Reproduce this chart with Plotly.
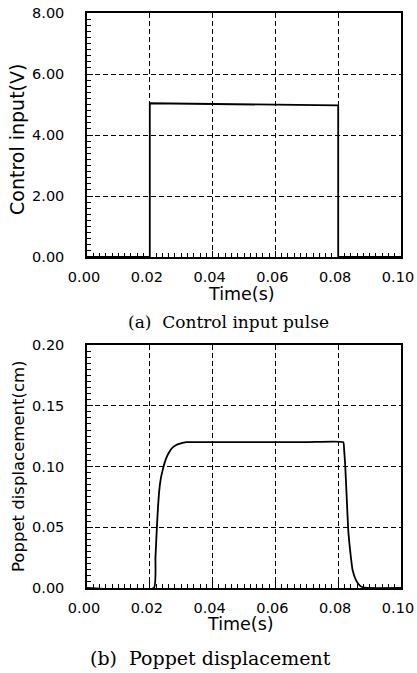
import plotly.graph_objects as go

# ---- data ----
t_ctrl = [0.0, 0.020, 0.020, 0.0800, 0.0800, 0.100]
v_ctrl = [0.0, 0.0, 5.04, 4.97, 0.0, 0.0]

t_pop = [0.0, 0.0213, 0.0218, 0.0222, 0.0226, 0.0230, 0.0235, 0.0241, 0.0247, 0.0254,
         0.0262, 0.0270, 0.0283, 0.0296, 0.0317, 0.0500, 0.0700, 0.0816, 0.0819,
         0.0822, 0.0827, 0.0832, 0.0838, 0.0846, 0.0857, 0.0869, 0.0880, 0.0891, 0.100]
x_pop = [0.0, 0.0, 0.025, 0.047, 0.066, 0.080, 0.090, 0.097, 0.103, 0.108,
         0.112, 0.115, 0.1175, 0.1188, 0.1200, 0.1200, 0.1200, 0.1200, 0.113,
         0.1025, 0.075, 0.0475, 0.031, 0.0146, 0.0063, 0.0020, 0.0005, 0.0, 0.0]

x_ticks = [0.00, 0.02, 0.04, 0.06, 0.08, 0.10]
x_ticklabels = ["0.00", "0.02", "0.04", "0.06", "0.08", "0.10"]
y1_ticks = [0, 2, 4, 6, 8]
y1_ticklabels = ["0.00", "2.00", "4.00", "6.00", "8.00"]
y2_ticks = [0.00, 0.05, 0.10, 0.15, 0.20]
y2_ticklabels = ["0.00", "0.05", "0.10", "0.15", "0.20"]

W, H = 417, 673

def py(p):
    return 1 - p / H

def px(p):
    return p / W

fig = go.Figure()
fig.add_trace(go.Scatter(x=t_ctrl, y=v_ctrl, mode="lines",
                         line=dict(color="black", width=1.8),
                         xaxis="x", yaxis="y", showlegend=False))
fig.add_trace(go.Scatter(x=t_pop, y=x_pop, mode="lines",
                         line=dict(color="black", width=1.8, shape="spline", smoothing=0.4),
                         xaxis="x2", yaxis="y2", showlegend=False))

tickfont = dict(family="DejaVu Sans", size=14.5, color="black")

def xaxis_common(anchor):
    return dict(range=[0, 0.1], tickvals=x_ticks, ticktext=x_ticklabels,
                showline=True, linecolor="black", linewidth=1.5, mirror=True,
                ticks="inside", ticklen=6, tickcolor="black", tickwidth=1,
                minor=dict(dtick=0.002, ticks="inside", ticklen=4, tickcolor="black", tickwidth=1),
                showgrid=True, gridcolor="black", gridwidth=1, griddash="5px,3px",
                zeroline=False, tickfont=tickfont, ticklabelstandoff=6,
                ticklabelshift=-3, anchor=anchor, domain=[px(87), px(401)],
                automargin=False)

def yaxis_common(rng, tv, tt, dmin, anchor, domain):
    return dict(range=rng, tickvals=tv, ticktext=tt,
                showline=True, linecolor="black", linewidth=1.5, mirror=True,
                ticks="inside", ticklen=6, tickcolor="black", tickwidth=1,
                minor=dict(dtick=dmin, ticks="inside", ticklen=4, tickcolor="black", tickwidth=1),
                showgrid=True, gridcolor="black", gridwidth=1, griddash="5px,3px",
                zeroline=False, tickfont=tickfont, ticklabelstandoff=18,
                anchor=anchor, domain=domain, automargin=False)

fig.update_layout(
    width=W, height=H,
    margin=dict(l=0, r=0, t=0, b=0, autoexpand=False),
    paper_bgcolor="white", plot_bgcolor="white",
    xaxis=xaxis_common("y"),
    yaxis=yaxis_common([0, 8], y1_ticks, y1_ticklabels, 0.2, "x", [py(257), py(13)]),
    xaxis2=xaxis_common("y2"),
    yaxis2=yaxis_common([0, 0.2], y2_ticks, y2_ticklabels, 0.005, "x2", [py(588), py(345)]),
)

sans = "DejaVu Sans"
serif = "DejaVu Serif"
anns = [
    dict(text="Control input(V)", x=px(17), y=py(140), textangle=-90,
         font=dict(family=sans, size=19, color="black")),
    dict(text="Time(s)", x=px(242), y=py(294),
         font=dict(family=sans, size=17.5, color="black")),
    dict(text="(a)  Control input pulse", x=px(228), y=py(322),
         font=dict(family=serif, size=17, color="black")),
    dict(text="Poppet displacement(cm)", x=px(18), y=py(466), textangle=-90,
         font=dict(family=sans, size=16.5, color="black")),
    dict(text="Time(s)", x=px(241), y=py(624),
         font=dict(family=sans, size=17.5, color="black")),
    dict(text="(b)  Poppet displacement", x=px(211), y=py(658),
         font=dict(family=serif, size=19, color="black")),
]
for a in anns:
    a.update(xref="paper", yref="paper", xanchor="center", yanchor="middle", showarrow=False)
fig.update_layout(annotations=anns)

fig.write_html("out.html")
